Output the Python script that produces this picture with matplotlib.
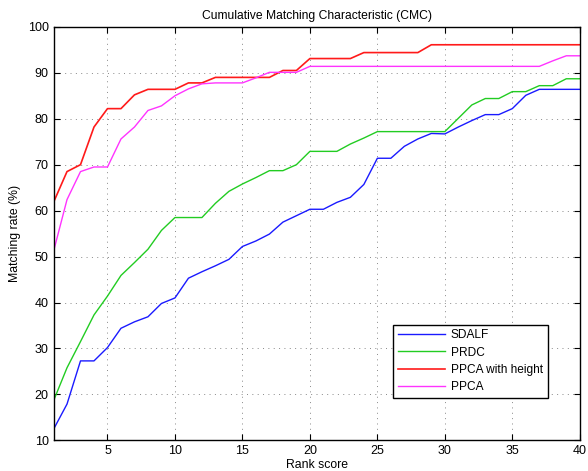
import matplotlib
matplotlib.use('Agg')
import matplotlib.pyplot as plt

plt.rcParams['font.family'] = ['Liberation Sans', 'DejaVu Sans']

rank = list(range(1, 41))

sdalf = [12.4, 17.9, 27.3, 27.3, 30.2, 34.4, 35.8, 36.9, 39.8, 41.0,
         45.3, 46.7, 48.0, 49.4, 52.2, 53.4, 54.9, 57.5, 58.9, 60.3,
         60.3, 61.8, 62.9, 65.7, 71.4, 71.4, 74.0, 75.6, 76.8, 76.7,
         78.2, 79.6, 80.9, 80.9, 82.2, 85.1, 86.4, 86.4, 86.4, 86.4]

prdc = [18.6, 25.8, 31.5, 37.3, 41.4, 45.9, 48.7, 51.6, 55.7, 58.5,
        58.5, 58.5, 61.6, 64.2, 65.8, 67.2, 68.7, 68.7, 70.0, 72.9,
        72.9, 72.9, 74.5, 75.8, 77.2, 77.2, 77.2, 77.2, 77.2, 77.2,
        80.1, 83.0, 84.4, 84.4, 85.9, 85.9, 87.2, 87.2, 88.7, 88.7]

ppca_h = [61.8, 68.5, 70.0, 78.2, 82.2, 82.2, 85.2, 86.4, 86.4, 86.4,
          87.8, 87.8, 89.0, 89.0, 89.0, 89.0, 89.0, 90.5, 90.5, 93.1,
          93.1, 93.1, 93.1, 94.4, 94.4, 94.4, 94.4, 94.4, 96.1, 96.1,
          96.1, 96.1, 96.1, 96.1, 96.1, 96.1, 96.1, 96.1, 96.1, 96.1]

ppca = [51.1, 62.4, 68.5, 69.5, 69.5, 75.6, 78.2, 81.8, 82.8, 85.0,
        86.5, 87.6, 87.8, 87.8, 87.8, 88.9, 90.1, 90.1, 90.1, 91.4,
        91.4, 91.4, 91.4, 91.4, 91.4, 91.4, 91.4, 91.4, 91.4, 91.4,
        91.4, 91.4, 91.4, 91.4, 91.4, 91.4, 91.4, 92.6, 93.7, 93.7]

fig = plt.figure(figsize=(5.88, 4.71), dpi=100)
ax = fig.add_axes([0.091, 0.065, 0.895, 0.878])

ax.plot(rank, sdalf, color='#1a1aff', lw=1.0, label='SDALF')
ax.plot(rank, prdc, color='#22cc22', lw=1.0, label='PRDC')
ax.plot(rank, ppca_h, color='#ff1a1a', lw=1.2, label='PPCA with height')
ax.plot(rank, ppca, color='#ff33ff', lw=1.0, label='PPCA')

ax.set_xlim(1, 40)
ax.set_ylim(10, 100)
ax.set_xticks([5, 10, 15, 20, 25, 30, 35, 40])
ax.set_yticks(range(10, 101, 10))
ax.grid(True, color='#888888', linestyle=(0, (1, 4.5)), linewidth=0.7)
ax.tick_params(direction='in', top=True, right=True, labelsize=9, length=4)
for s in ax.spines.values():
    s.set_linewidth(1.0)

ax.set_title('Cumulative Matching Characteristic (CMC)', fontsize=8.7, pad=6)
ax.set_xlabel('Rank score', fontsize=8.8, labelpad=1)
ax.set_ylabel('Matching rate (%)', fontsize=8.8, labelpad=5)

leg = ax.legend(loc='lower right', bbox_to_anchor=(0.939, 0.102), fontsize=8.6,
                fancybox=False, edgecolor='black', framealpha=1,
                handlelength=3.9, handletextpad=0.5, labelspacing=0.45,
                borderpad=0.4, borderaxespad=0)
leg.get_frame().set_linewidth(1.0)

fig.savefig('out.png', dpi=100)
